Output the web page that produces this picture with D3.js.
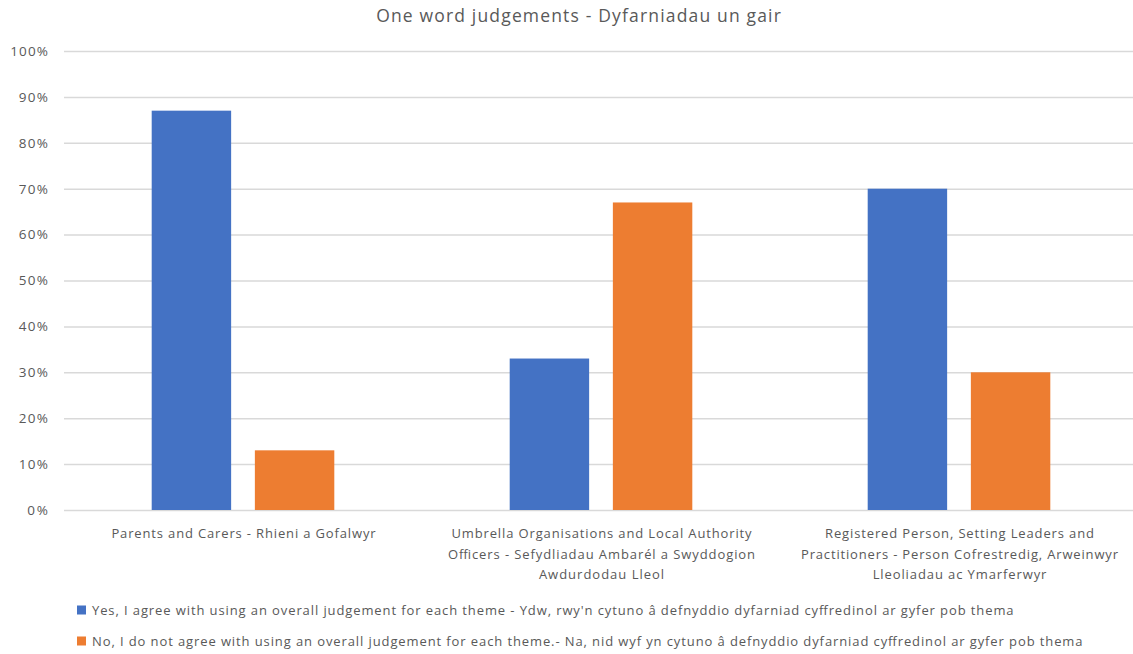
<!DOCTYPE html>
<html><head><meta charset="utf-8">
<script src="https://cdn.jsdelivr.net/npm/d3@7"></script>
<style>body{margin:0;background:#fff}svg{display:block;font-family:"Open Sans",sans-serif}</style>
</head><body><svg id="c" width="1133" height="654"></svg>
<script>
const title = "One word judgements - Dyfarniadau un gair";
const categories = [
  ["Parents and Carers - Rhieni a Gofalwyr"],
  ["Umbrella Organisations and Local Authority", "Officers - Sefydliadau Ambarél a Swyddogion", "Awdurdodau Lleol"],
  ["Registered Person, Setting Leaders and", "Practitioners - Person Cofrestredig, Arweinwyr", "Lleoliadau ac Ymarferwyr"]
];
const seriesNames = [
  "Yes, I agree with using an overall judgement for each theme - Ydw, rwy'n cytuno â defnyddio dyfarniad cyffredinol ar gyfer pob thema",
  "No, I do not agree with using an overall judgement for each theme.- Na, nid wyf yn cytuno â defnyddio dyfarniad cyffredinol ar gyfer pob thema"
];
const yesValues = [0.87, 0.33, 0.70];
const noValues = [0.13, 0.67, 0.30];
const yTicks = [0,0.1,0.2,0.3,0.4,0.5,0.6,0.7,0.8,0.9,1.0];
const colors = ["#4472C4", "#ED7D31"];

const svg = d3.select("#c");
function stretch(sel, f) {
  sel.each(function(){
    const w = this.getComputedTextLength();
    d3.select(this).attr("textLength", w * f).attr("lengthAdjust", "spacing");
  });
}
const catIdx = categories.map((d,i)=>i);
const x0 = d3.scaleBand().domain(catIdx).range([64, 1138]).padding(0);
const x1 = d3.scaleBand().domain([0,1]).range([0, x0.bandwidth()]).paddingInner(0.23).paddingOuter(0.85);
const y = d3.scaleLinear().domain([0,1]).range([510, 51]);

const tt = svg.append("text").attr("x", 578.5).attr("y", 22).attr("text-anchor","middle")
  .attr("font-size", 17.5).attr("fill", "#595959").text(title);
stretch(tt, 1.13);

// grid
const yAxis = d3.axisLeft(y).tickValues(yTicks).tickFormat(d3.format(".0%")).tickSize(-(1138-64)).tickPadding(16);
const gA = svg.append("g").attr("transform","translate(64,0)").call(yAxis);
gA.select(".domain").remove();
gA.selectAll(".tick line").attr("stroke","#d9d9d9").attr("stroke-width",1.5);
const tl = gA.selectAll(".tick text").attr("fill","#595959").attr("font-size",13.5).attr("font-family","Open Sans, sans-serif");
stretch(tl, 1.1);

const data = [yesValues, noValues];
const g = svg.append("g");
catIdx.forEach(ci => {
  [0,1].forEach(si => {
    g.append("rect")
      .attr("x", x0(ci) + x1(si))
      .attr("width", x1.bandwidth())
      .attr("y", y(data[si][ci]))
      .attr("height", y(0) - y(data[si][ci]))
      .attr("fill", colors[si]);
  });
});

// category labels
catIdx.forEach(ci => {
  categories[ci].forEach((line, li) => {
    const t = svg.append("text").attr("text-anchor","middle").attr("fill","#595959").attr("font-size",13)
      .attr("x", x0(ci) + x0.bandwidth()/2 + 0.5).attr("y", 538 + li*20.5).text(line);
    stretch(t, 1.135);
  });
});

// legend
seriesNames.forEach((s, i) => {
  const ly = 610.5 + i*31;
  svg.append("rect").attr("x", 77).attr("y", ly-5).attr("width", 9).attr("height", 9).attr("fill", colors[i]);
  const t = svg.append("text").attr("x", 92).attr("y", ly+4.5).attr("fill","#595959").attr("font-size",13).text(s);
  stretch(t, 1.145);
});
</script></body></html>
